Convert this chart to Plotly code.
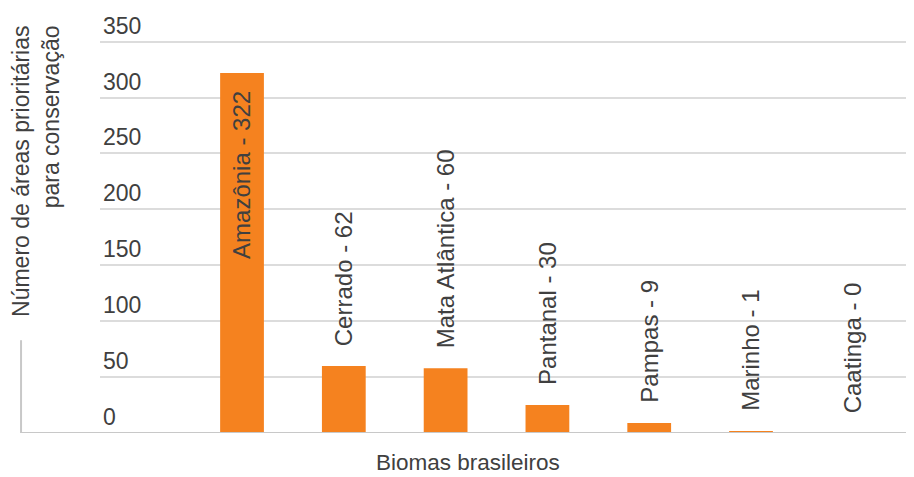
import plotly.graph_objects as go

# Data
biomes = ["Amazônia", "Cerrado", "Mata Atlântica", "Pantanal", "Pampas", "Marinho", "Caatinga"]
label_values = [322, 62, 60, 30, 9, 1, 0]          # values written in the labels
bar_values = [322, 60, 58, 25, 9, 1.5, 0]           # bar heights as drawn
y_ticks = [0, 50, 100, 150, 200, 250, 300, 350]
x_title = "Biomas brasileiros"
y_title = "Número de áreas prioritárias<br>para conservação"

FONT = "Liberation Sans, Arial, sans-serif"
TEXT = "#404040"
ORANGE = "#F5821F"

fig = go.Figure()
fig.add_trace(go.Bar(
    x=list(range(len(biomes))), y=bar_values,
    marker=dict(color=ORANGE, line=dict(width=0)),
    width=0.43, hoverinfo="skip",
))

annotations = []
for i, (name, lv, bv) in enumerate(zip(biomes, label_values, bar_values)):
    inside = bv > 200
    annotations.append(dict(
        x=i, y=bv, xref="x", yref="y",
        text=f"{name} - {lv}", showarrow=False, textangle=-90,
        xanchor="center", yanchor="top" if inside else "bottom",
        yshift=-16 if inside else 18,
        font=dict(family=FONT, size=24, color=TEXT),
    ))

annotations.append(dict(
    x=-0.078, y=102, xref="paper", yref="y", text=y_title,
    showarrow=False, textangle=-90, align="right",
    xanchor="center", yanchor="bottom",
    font=dict(family=FONT, size=23, color=TEXT),
))
annotations.append(dict(
    x=0.452, y=0, xref="paper", yref="paper", text=x_title,
    showarrow=False, xanchor="center", yanchor="top", yshift=-16,
    borderpad=0,
    font=dict(family=FONT, size=22.5, color=TEXT),
))

shapes = [
    dict(type="line", xref="paper", yref="y", x0=-0.097, x1=1, y0=0, y1=0,
         line=dict(color="#c8c8c8", width=2)),
    dict(type="line", xref="paper", yref="y", x0=-0.097, x1=-0.097, y0=0, y1=83,
         line=dict(color="#c8c8c8", width=2)),
]

fig.update_layout(
    width=906, height=469,
    margin=dict(l=92, r=0, t=0, b=43.7),
    paper_bgcolor="white", plot_bgcolor="white",
    showlegend=False,
    annotations=annotations, shapes=shapes,
    xaxis=dict(range=[-1.395, 6.601], showticklabels=False, showgrid=False,
               zeroline=False, showline=False, ticks=""),
    yaxis=dict(range=[0, 380.1], tickvals=y_ticks, ticklabelposition="inside top",
               tickfont=dict(family=FONT, size=23, color=TEXT),
               showgrid=True, gridcolor="#dcdcdc", gridwidth=2,
               zeroline=False, showline=False, ticks=""),
)

fig.write_html("out.html")
